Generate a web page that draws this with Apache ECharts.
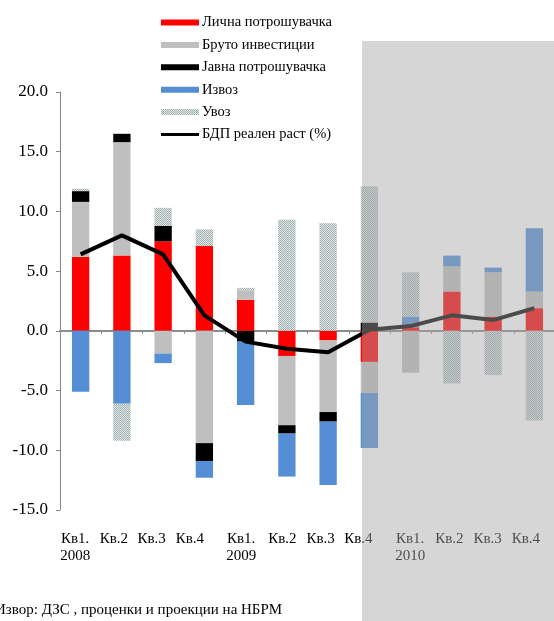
<!DOCTYPE html>
<html>
<head>
<meta charset="utf-8">
<script src="https://cdn.jsdelivr.net/npm/echarts@6/dist/echarts.min.js"></script>
<style>
  html, body { margin: 0; padding: 0; background: #fff; }
  #chart { width: 554px; height: 621px; }
</style>
</head>
<body>
<div id="chart"></div>
<script>
// Quarterly contributions to real GDP growth (percentage points)
const categories = ['Кв1.\n2008', 'Кв.2', 'Кв.3', 'Кв.4',
                    'Кв1.\n2009', 'Кв.2', 'Кв.3', 'Кв.4',
                    'Кв1.\n2010', 'Кв.2', 'Кв.3', 'Кв.4'];

const personalConsumption = [6.2, 6.3, 7.5, 7.1, 2.6, -2.1, -0.8, -2.6, 0.3, 3.3, 1.2, 1.9];
const grossInvestment     = [4.6, 9.5, -1.9, -9.4, 0.8, -5.8, -6.0, -2.6, -3.5, 2.1, 3.7, 1.4];
const publicConsumption   = [0.9, 0.7, 1.3, -1.5, -0.9, -0.7, -0.8, 0.7, 0, 0, 0, 0];
const exportsContrib      = [-5.1, -6.1, -0.8, -1.4, -5.3, -3.6, -5.3, -4.6, 0.9, 0.9, 0.4, 5.3];
const importsContrib      = [0.2, -3.1, 1.5, 1.4, 0.2, 9.3, 9.0, 11.4, 3.7, -4.4, -3.7, -7.5];
const gdpGrowth           = [6.4, 8.0, 6.4, 1.3, -0.9, -1.5, -1.8, 0.1, 0.4, 1.3, 0.9, 1.9];

const seriesNames = ['Лична потрошувачка', 'Бруто инвестиции', 'Јавна потрошувачка',
                     'Извоз', 'Увоз', 'БДП реален раст (%)'];

const yTicks = { min: -15, max: 20, step: 5 };

// leftward nudge (px) of each category label
const labelNudge = [5.5, 8, 11.5, 14.5, 4.5, 4.5, 7.5, 11, 0.5, 2.5, 5.5, 8.5];

const serif = 'Liberation Serif, Times New Roman, serif';

// fine dotted fill for imports
function dotPattern() {
  const c = document.createElement('canvas');
  c.width = 4; c.height = 4;
  const g = c.getContext('2d');
  for (let y = 0; y < 4; y++) {
    for (let x = 0; x < 4; x++) {
      g.fillStyle = ((x + y) % 2 === 0) ? '#9fafaf' : '#e3e9e9';
      g.fillRect(x, y, 1, 1);
    }
  }
  return { image: c, repeat: 'repeat' };
}
const importsFill = dotPattern();

const rich = {};
labelNudge.forEach((d, i) => {
  rich['q' + i] = {
    fontFamily: serif, fontSize: 15, color: '#000', lineHeight: 17.5,
    padding: [0, 2 * d, 0, 0]
  };
});

// thin horizontal band inside a 38x6 box, used as the line legend marker
const lineIcon = 'path://M0,0L38,0Z M0,1.5H38V4.5H0Z M0,6L38,6Z';

const chart = echarts.init(document.getElementById('chart'), null, { renderer: 'canvas' });

const barBase = { type: 'bar', stack: 'total', barWidth: '42%', xAxisIndex: 0 };

chart.setOption({
  animation: false,
  backgroundColor: '#fff',
  grid: { left: 60, top: 92, width: 495, bottom: 111, containLabel: false, outerBoundsMode: 'none' },
  legend: {
    orient: 'vertical',
    left: 156, top: 10,
    itemWidth: 38, itemHeight: 6, itemGap: 7.4,
    textStyle: { fontFamily: serif, fontSize: 14.5, color: '#000', padding: [0, 0, 0, -2] },
    data: seriesNames.slice(0, 5).map(n => ({ name: n, icon: 'rect' }))
      .concat([{ name: seriesNames[5], icon: lineIcon, itemStyle: { color: '#000', borderWidth: 0 } }])
  },
  xAxis: [
    {
      type: 'category', data: categories,
      axisLine: { onZero: true, lineStyle: { color: '#8c8c8c', width: 2 } },
      axisTick: { show: true, interval: 0, length: 3, lineStyle: { color: '#8c8c8c' } },
      axisLabel: { show: false },
      splitLine: { show: false }
    },
    {
      type: 'category', data: categories, position: 'bottom',
      axisLine: { show: false, onZero: false },
      axisTick: { show: false },
      splitLine: { show: false },
      axisLabel: {
        show: true, interval: 0, margin: 20, verticalAlign: 'top',
        formatter: (value, index) => value.split('\n').map(s => '{q' + index + '|' + s + '}').join('\n'),
        rich: rich
      }
    }
  ],
  yAxis: {
    type: 'value', min: yTicks.min, max: yTicks.max, interval: yTicks.step,
    axisLine: { show: true, lineStyle: { color: '#868686', width: 1 } },
    axisTick: { show: true, length: 4, lineStyle: { color: '#868686' } },
    splitLine: { show: false },
    axisLabel: {
      margin: 12, fontFamily: serif, fontSize: 17, color: '#000',
      formatter: v => v.toFixed(1)
    }
  },
  series: [
    Object.assign({}, barBase, { name: seriesNames[0], data: personalConsumption, itemStyle: { color: '#ff0000' } }),
    Object.assign({}, barBase, { name: seriesNames[1], data: grossInvestment, itemStyle: { color: '#bfbfbf' } }),
    Object.assign({}, barBase, { name: seriesNames[2], data: publicConsumption, itemStyle: { color: '#000000' } }),
    Object.assign({}, barBase, { name: seriesNames[3], data: exportsContrib, itemStyle: { color: '#558ed5' } }),
    Object.assign({}, barBase, { name: seriesNames[4], data: importsContrib, itemStyle: { color: importsFill } }),
    {
      type: 'line', name: seriesNames[5], data: gdpGrowth, xAxisIndex: 0,
      symbol: 'none', z: 5,
      itemStyle: { color: '#000' },
      lineStyle: { color: '#000', width: 4 }
    }
  ],
  graphic: [
    {
      // shaded projection period
      type: 'rect', left: 362, top: 41, z: 100, silent: true,
      shape: { width: 192, height: 580 },
      style: { fill: 'rgba(165,165,165,0.455)' }
    },
    {
      type: 'text', left: -5, top: 603, z: 50,
      style: { text: 'Извор: ДЗС , проценки и проекции на НБРМ', font: '15px ' + serif, fill: '#000' }
    }
  ]
});
</script>
</body>
</html>
